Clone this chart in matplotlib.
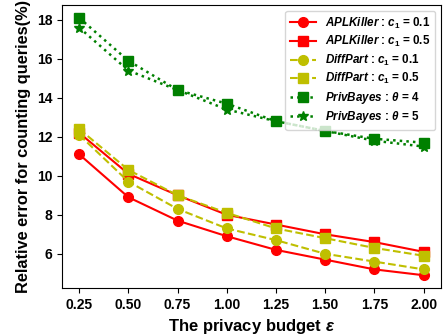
import numpy as np
import matplotlib
matplotlib.use('Agg')
import matplotlib.pyplot as plt

plt.rcParams['font.family'] = ['Liberation Sans', 'DejaVu Sans']
plt.rcParams['mathtext.fontset'] = 'custom'
plt.rcParams['mathtext.it'] = 'Liberation Sans:italic:bold'
plt.rcParams['mathtext.rm'] = 'Liberation Sans:bold'
plt.rcParams['mathtext.bf'] = 'Liberation Sans:bold'

budget = [0.25, 0.50, 0.75, 1.00, 1.25, 1.50, 1.75, 2.00]

apl_01 = [11.1, 8.9, 7.7, 6.9, 6.2, 5.7, 5.2, 4.9]
apl_05 = [12.2, 10.1, 9.0, 8.0, 7.5, 7.0, 6.6, 6.1]
diff_01 = [12.1, 9.7, 8.3, 7.3, 6.7, 6.0, 5.6, 5.2]
diff_05 = [12.4, 10.3, 9.0, 8.1, 7.3, 6.8, 6.3, 5.9]
priv_4 = [18.1, 15.9, 14.4, 13.7, 12.8, 12.3, 11.9, 11.7]
priv_5 = [17.6, 15.4, 14.4, 13.4, 12.8, 12.3, 11.8, 11.5]

fig = plt.figure(figsize=(4.43, 3.35), dpi=100)
ax = fig.add_axes([0.14, 0.14, 0.855, 0.845])

ax.plot(budget, apl_01, 'r-', marker='o', ms=7, lw=1.5, label=r'$APLKiller$ : $c_1$ = 0.1')
ax.plot(budget, apl_05, 'r-', marker='s', ms=7, lw=1.5, label=r'$APLKiller$ : $c_1$ = 0.5')
ax.plot(budget, diff_01, 'y--', marker='o', ms=7, lw=1.5, label=r'$DiffPart$ : $c_1$ = 0.1')
ax.plot(budget, diff_05, 'y--', marker='s', ms=7, lw=1.5, label=r'$DiffPart$ : $c_1$ = 0.5')
ax.plot(budget, priv_4, 'g:', marker='s', ms=7, lw=1.8, label=r'$PrivBayes$ : $\theta$ = 4')
ax.plot(budget, priv_5, 'g:', marker='*', ms=7, lw=1.8, label=r'$PrivBayes$ : $\theta$ = 5')

ax.set_xticks(budget)
ax.set_xticklabels(['%.2f' % b for b in budget])
for lab in ax.get_xticklabels() + ax.get_yticklabels():
    lab.set_fontweight('bold')
    lab.set_fontsize(10)

ax.set_xlabel(r'The privacy budget $\epsilon$', fontsize=12, fontweight='bold')
ax.set_ylabel('Relative error for counting queries(%)', fontsize=11.8, fontweight='bold')
ax.legend(loc='upper right', prop={'weight': 'bold', 'size': 8.4}, handlelength=2.2,
          labelspacing=0.3)

fig.savefig('out.png', dpi=100)
